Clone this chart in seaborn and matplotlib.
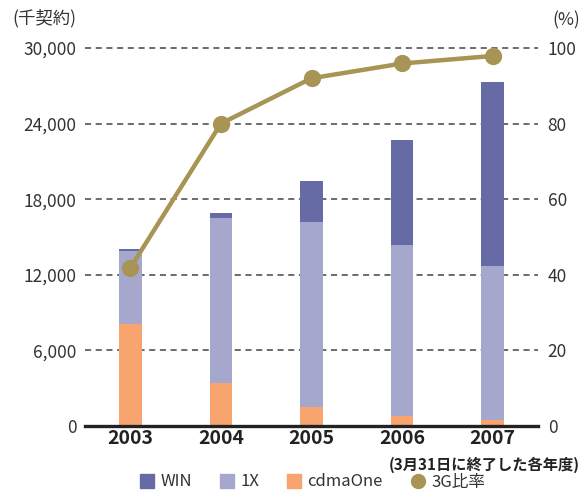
import matplotlib
matplotlib.use("Agg")
import matplotlib.pyplot as plt
import seaborn as sns
import pandas as pd
import numpy as np
from matplotlib.lines import Line2D
from matplotlib.ticker import FuncFormatter

sns.set_style("white")
plt.rcParams["font.family"] = ["Noto Sans CJK JP", "DejaVu Sans"]

# Subscribers by fiscal year (thousand contracts) and 3G share (%)
years = ["2003", "2004", "2005", "2006", "2007"]
cdma_one = [8100, 3400, 1500, 800, 480]
one_x = [5800, 13100, 14700, 13550, 12220]
win = [150, 400, 3250, 8350, 14600]
ratio_3g = [41.8, 80.0, 92.0, 95.9, 97.9]

c_win = "#666ba6"
c_1x = "#a5a8cc"
c_cdma = "#f7a46e"
c_line = "#a89454"
txt = "#333333"

df = pd.DataFrame({"year": years, "cdmaOne": cdma_one, "1X": one_x,
                   "WIN": win, "ratio": ratio_3g})
df["base_1x"] = df["cdmaOne"]
df["base_win"] = df["cdmaOne"] + df["1X"]

fig = plt.figure(figsize=(5.83, 4.91), dpi=100)
ax = fig.add_axes([85 / 583, 65 / 491, 453 / 583, 378 / 491])

w = 0.25
sns.barplot(data=df, x="year", y="cdmaOne", color=c_cdma, width=w,
            saturation=1, ax=ax, linewidth=0)
sns.barplot(data=df, x="year", y="1X", bottom=df["base_1x"], color=c_1x,
            width=w, saturation=1, ax=ax, linewidth=0)
sns.barplot(data=df, x="year", y="WIN", bottom=df["base_win"], color=c_win,
            width=w, saturation=1, ax=ax, linewidth=0)

ax.set_ylim(0, 30000)
ax.set_xlim(-0.5, 4.5)
ax.set_yticks([0, 6000, 12000, 18000, 24000, 30000])
ax.yaxis.set_major_formatter(FuncFormatter(lambda v, p: f"{int(v):,}"))
for yv in [6000, 12000, 18000, 24000, 30000]:
    ax.axhline(yv, color="#444444", lw=1.1, ls=(0, (4, 3)), zorder=0.5,
               clip_on=False)
ax.set_xlabel("")
ax.set_ylabel("")
for s in ["top", "right", "left"]:
    ax.spines[s].set_visible(False)
ax.spines["bottom"].set_color("#222222")
ax.spines["bottom"].set_linewidth(2.4)
ax.spines["bottom"].set_zorder(5)
ax.tick_params(axis="y", length=0, labelsize=12.5, labelcolor=txt, pad=6)
ax.tick_params(axis="x", length=0, labelsize=14, labelcolor="#222222", pad=2)
for lab in ax.get_xticklabels():
    lab.set_fontweight("bold")

ax2 = ax.twinx()
sns.pointplot(data=df, x="year", y="ratio", color=c_line, ax=ax2,
              markers="o", markersize=10, linewidth=3.2, errorbar=None)
ax2.set_ylim(0, 100)
ax2.set_xlim(-0.5, 4.5)
ax2.set_yticks([0, 20, 40, 60, 80, 100])
ax2.set_ylabel("")
ax2.set_xlabel("")
for s in ["top", "right", "left", "bottom"]:
    ax2.spines[s].set_visible(False)
ax2.tick_params(axis="y", length=0, labelsize=12.5, labelcolor=txt, pad=7)

fig.text(12 / 583, 1 - 18 / 491, "(千契約)", fontsize=12.5, color=txt,
         ha="left", va="center")
fig.text(580 / 583, 1 - 20 / 491, "(%)", fontsize=12.5, color=txt,
         ha="right", va="center")
fig.text(580 / 583, 1 - 465 / 491, "(3月31日に終了した各年度)", fontsize=11,
         color="#222222", ha="right", va="center", fontweight="bold")

handles = [
    Line2D([], [], ls="none", marker="s", ms=10, color=c_win, label="WIN"),
    Line2D([], [], ls="none", marker="s", ms=10, color=c_1x, label="1X"),
    Line2D([], [], ls="none", marker="s", ms=10, color=c_cdma, label="cdmaOne"),
    Line2D([], [], ls="none", marker="o", ms=10, color=c_line, label="3G比率"),
]
leg = fig.legend(handles=handles, loc="center", ncol=4,
                 bbox_to_anchor=(312 / 583, 1 - 482 / 491), frameon=False,
                 fontsize=12, handletextpad=0.3, columnspacing=1.6,
                 handlelength=1.0, borderaxespad=0)
for t in leg.get_texts():
    t.set_color(txt)

fig.savefig("out.png", dpi=100)
